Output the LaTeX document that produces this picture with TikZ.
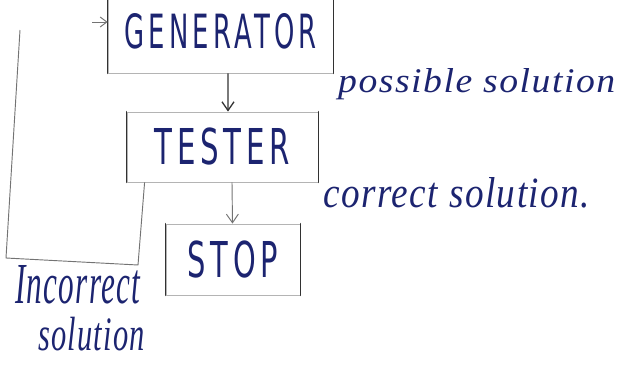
\documentclass[tikz,border=0pt]{standalone}
\usepackage{fontspec}
\setmainfont{Liberation Serif}
\newfontfamily\capsfont{DejaVu Sans}[LetterSpace=16]
\newfontfamily\notefont{Liberation Serif}[LetterSpace=4]
\usetikzlibrary{arrows.meta}
\definecolor{ink}{RGB}{28,36,112}
\definecolor{pencil}{RGB}{50,50,50}
\definecolor{faint}{RGB}{180,180,180}
\definecolor{midgray}{RGB}{115,115,115}
% box captions and handwritten labels, stretched to a given width and height
\newcommand{\capword}[3]{\resizebox{#1}{#2}{\capsfont #3}}
\newcommand{\noteword}[3]{\resizebox{#1}{#2}{\notefont\itshape #3}}
\begin{document}
\begin{tikzpicture}[x=0.03cm,y=-0.03cm,
  block/.style={draw=faint, line width=0.7pt, rectangle, inner sep=0pt, text=ink},
  side/.style={draw=pencil, line width=1.1pt, line cap=round},
  flow/.style={line width=1.1pt, -{Straight Barb[length=2.6mm,width=3.6mm]}},
  loopline/.style={draw=midgray, line width=0.8pt},
  note/.style={text=ink, inner sep=0pt}]
\useasboundingbox (0,0) rectangle (617,364);
\clip (0,0) rectangle (617,364);

% boxes
\node[block, minimum width=6.75cm, minimum height=2.49cm] (gen) at (220.5,31.5)
  {\capword{5.76cm}{1.05cm}{GENERATOR}};
\node[block, minimum width=5.73cm, minimum height=2.1cm] (tester) at (222.5,147)
  {\capword{4.05cm}{1.1cm}{TESTER}};
\node[block, minimum width=4.02cm, minimum height=2.13cm] (stop) at (233,259.5)
  {\capword{2.7cm}{1.1cm}{STOP}};

% darker upright sides of the boxes
\foreach \b in {gen,tester,stop}{
  \draw[side] (\b.north west) -- (\b.south west);
  \draw[side] (\b.north east) -- (\b.south east);
}

% main flow
\draw[flow, draw=pencil] ([xshift=0.225cm]gen.south) -- ([xshift=0.165cm]tester.north);
\draw[flow, draw=midgray, line width=0.8pt] ([xshift=0.285cm]tester.south) -- ([xshift=-0.015cm]stop.north);

% feedback of incorrect solutions
\coordinate (fbA) at (138,265);
\coordinate (fbB) at (6,258);
\coordinate (fbC) at (20,30);
\coordinate (fbIn) at (92,22);
\draw[loopline] ([xshift=0.54cm]tester.south west) -- (fbA) -- (fbB) -- (fbC);
\draw[loopline, -{Straight Barb[length=2mm,width=3mm]}] (fbIn) -- (fbIn -| gen.west);

% labels
\node[note, anchor=base west] (lposs) at (338,92) {\noteword{8.31cm}{0.72cm}{possible solution}};
\node[note, anchor=base west] (lcorr) at (323,207) {\noteword{8.01cm}{0.9cm}{correct solution.}};
\node[note, anchor=base west] (linc) at (15,303) {\noteword{3.75cm}{1.14cm}{Incorrect}};
\node[note, anchor=base west] (lsol) at (38,350) {\noteword{3.2cm}{1.0cm}{solution}};
\end{tikzpicture}
\end{document}
